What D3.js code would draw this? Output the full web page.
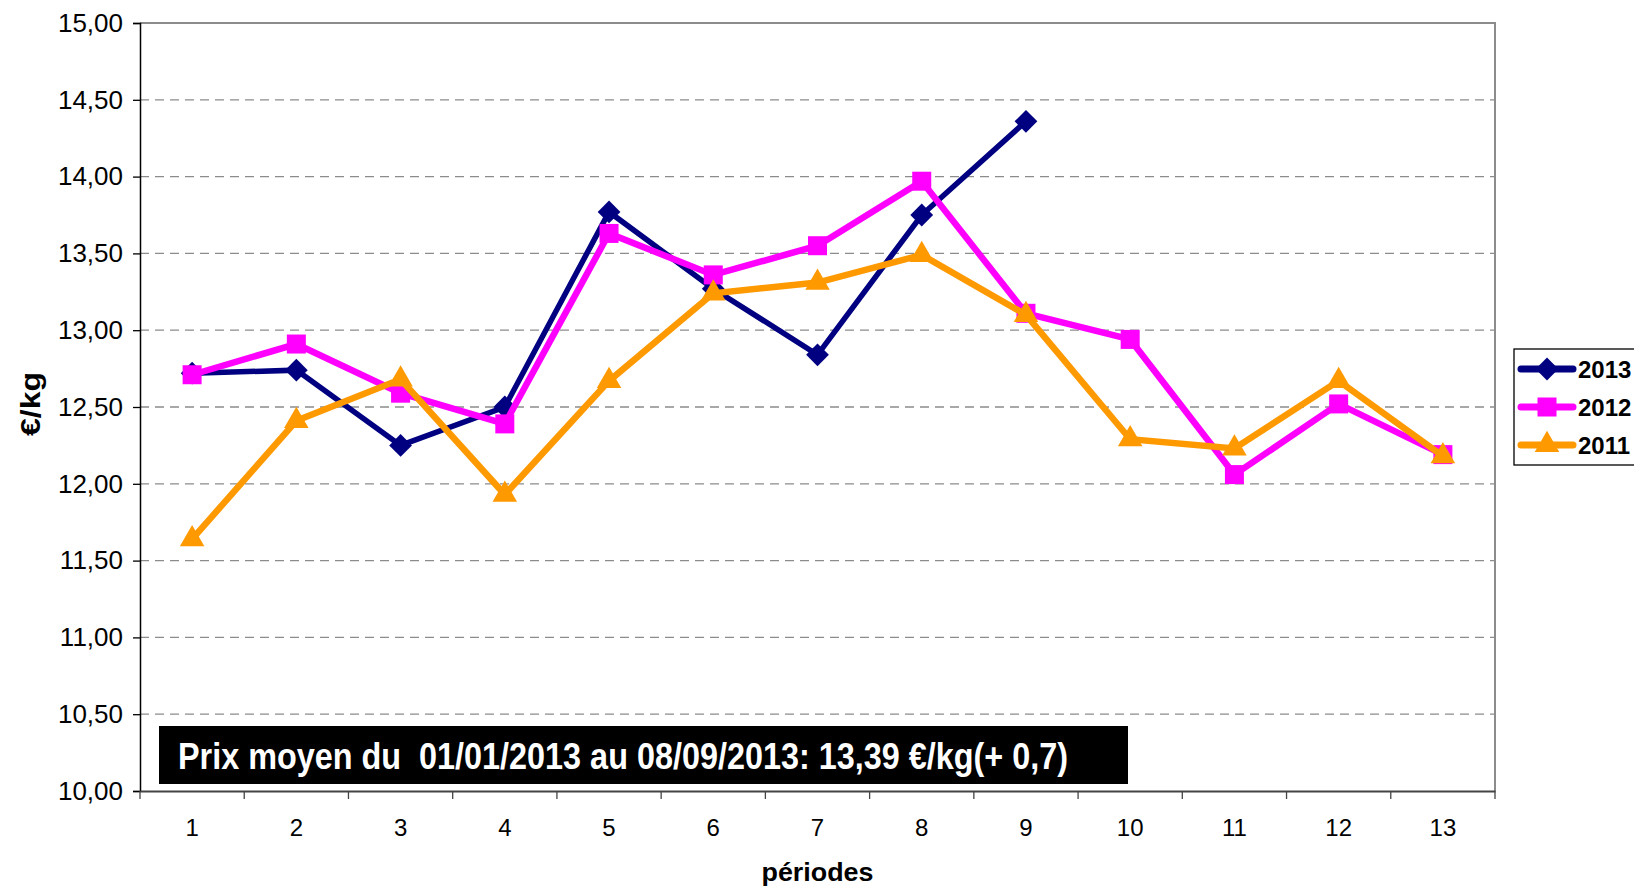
<!DOCTYPE html>
<html>
<head>
<meta charset="utf-8">
<script src="https://cdn.jsdelivr.net/npm/d3@7"></script>
<style>
	body { margin: 0; background: #fff; }
	svg { display: block; font-family: "Liberation Sans", Arial, sans-serif; }
</style>
</head>
<body>
<div id="chart"></div>
<script>
(function() {
	// data
	var periods = [1, 2, 3, 4, 5, 6, 7, 8, 9, 10, 11, 12, 13];
	var values2013 = [12.72, 12.74, 12.25, 12.50, 13.77, 13.27, 12.84, 13.75, 14.36];
	var values2012 = [12.71, 12.91, 12.59, 12.39, 13.63, 13.36, 13.55, 13.97, 13.11, 12.94, 12.06, 12.52, 12.19];
	var values2011 = [11.64, 12.41, 12.68, 11.93, 12.67, 13.24, 13.31, 13.49, 13.10, 12.29, 12.23, 12.67, 12.18];
	var seriesNames = ["2013", "2012", "2011"];
	var yTicks = [10, 10.5, 11, 11.5, 12, 12.5, 13, 13.5, 14, 14.5, 15];
	var note = "Prix moyen du  01/01/2013 au 08/09/2013: 13,39 €/kg(+ 0,7)";

	var width = 1634;
	var height = 890;
	var left = 140, top = 23, right = 1495, bottom = 791;

	var svg = d3.select("#chart")
		.append("svg")
		.attr("width", width)
		.attr("height", height);

	var x = d3.scaleBand()
		.domain(periods)
		.range([left, right])
		.padding(0);
	var y = d3.scaleLinear()
		.domain([10, 15])
		.range([bottom, top]);

	var fr = d3.formatLocale({decimal: ",", thousands: " ", grouping: [3], currency: ["", "€"]});
	var fmt = fr.format(".2f");

	// grid lines
	svg.append("g")
		.selectAll("line")
		.data(yTicks.filter(function(d) { return d > 10 && d < 15; }))
		.enter()
		.append("line")
		.attr("x1", left)
		.attr("x2", right)
		.attr("y1", function(d) { return y(d); })
		.attr("y2", function(d) { return y(d); })
		.attr("stroke", "#8c8c8c")
		.attr("stroke-width", 1.3)
		.attr("stroke-dasharray", "9,6");

	// frame top and right
	svg.append("path")
		.attr("d", "M" + left + "," + y(15) + "H" + right + "V" + bottom)
		.attr("fill", "none")
		.attr("stroke", "#8c8c8c")
		.attr("stroke-width", 2);

	// y axis
	var yAxis = svg.append("g")
		.attr("transform", "translate(" + left + ",0)")
		.call(d3.axisLeft(y).tickValues(yTicks).tickFormat(fmt).tickSize(7).tickPadding(10));
	yAxis.select(".domain").attr("stroke", "#000").attr("stroke-width", 1.5);
	yAxis.selectAll(".tick line").attr("stroke", "#000").attr("stroke-width", 1.3);
	yAxis.selectAll("text").attr("font-size", 26).attr("fill", "#000")
		.attr("font-family", "Liberation Sans, Arial, sans-serif");

	// x axis
	var xAxis = svg.append("g")
		.attr("transform", "translate(0," + bottom + ")")
		.call(d3.axisBottom(x).tickSize(0).tickPadding(28).tickSizeOuter(0));
	xAxis.select(".domain").attr("stroke", "#444").attr("stroke-width", 2);
	xAxis.selectAll("text").attr("font-size", 24).attr("fill", "#000")
		.attr("font-family", "Liberation Sans, Arial, sans-serif");
	var bounds = periods.map(function(p) { return x(p); }).concat([x(13) + x.bandwidth()]);
	svg.append("g")
		.selectAll("line")
		.data(bounds)
		.enter()
		.append("line")
		.attr("x1", function(d) { return d; })
		.attr("x2", function(d) { return d; })
		.attr("y1", bottom)
		.attr("y2", bottom + 8)
		.attr("stroke", "#444")
		.attr("stroke-width", 1.3);

	// axis titles
	svg.append("text")
		.attr("transform", "translate(40," + 404 + ") rotate(-90)")
		.attr("text-anchor", "middle")
		.attr("font-size", 27)
		.attr("font-weight", "bold")
		.attr("textLength", 64)
		.attr("lengthAdjust", "spacingAndGlyphs")
		.text("€/kg");
	svg.append("text")
		.attr("x", (left + right) / 2)
		.attr("y", 881)
		.attr("text-anchor", "middle")
		.attr("font-size", 26)
		.attr("font-weight", "bold")
		.attr("textLength", 112)
		.attr("lengthAdjust", "spacingAndGlyphs")
		.text("périodes");

	// note box
	svg.append("rect")
		.attr("x", 159)
		.attr("y", 726)
		.attr("width", 969)
		.attr("height", 58)
		.attr("fill", "#000");
	svg.append("text")
		.attr("x", 178)
		.attr("y", 769)
		.attr("font-size", 36)
		.attr("font-weight", "bold")
		.attr("fill", "#fff")
		.attr("textLength", 890)
		.attr("lengthAdjust", "spacingAndGlyphs")
		.style("white-space", "pre")
		.text(note);

	var colors = {"2013": "#000080", "2012": "#ff00ff", "2011": "#ff9900"};
	var symbols = {"2013": d3.symbolDiamond2, "2012": d3.symbolSquare2, "2011": d3.symbolTriangle2};
	var sizes = {"2013": 330, "2012": 460, "2011": 430};
	var widths = {"2013": 5.5, "2012": 6.5, "2011": 6.5};
	var allValues = {"2013": values2013, "2012": values2012, "2011": values2011};

	var line = d3.line()
		.x(function(d, i) { return x(periods[i]) + x.bandwidth() / 2; })
		.y(function(d) { return y(d); });

	function symbolPath(name) {
		return d3.symbol().type(symbols[name]).size(sizes[name])();
	}

	seriesNames.forEach(function(name) {
		var vals = allValues[name];
		var g = svg.append("g");
		g.append("path")
			.datum(vals)
			.attr("d", line)
			.attr("fill", "none")
			.attr("stroke", colors[name])
			.attr("stroke-width", widths[name])
			.attr("stroke-linejoin", "miter");
		g.selectAll(".pt")
			.data(vals)
			.enter()
			.append("path")
			.attr("class", "pt")
			.attr("transform", function(d, i) {
				return "translate(" + (x(periods[i]) + x.bandwidth() / 2) + "," + y(d) + ")";
			})
			.attr("d", symbolPath(name))
			.attr("fill", colors[name]);
	});

	// legend (cut off at right edge, like the original)
	var legend = svg.append("g");
	legend.append("rect")
		.attr("x", 1514)
		.attr("y", 349)
		.attr("width", 140)
		.attr("height", 116)
		.attr("fill", "#fff")
		.attr("stroke", "#000")
		.attr("stroke-width", 1.3);
	var ly = d3.scalePoint().domain(seriesNames).range([369, 445]);
	seriesNames.forEach(function(name) {
		var row = legend.append("g").attr("transform", "translate(0," + ly(name) + ")");
		row.append("line")
			.attr("x1", 1521)
			.attr("x2", 1573)
			.attr("stroke", colors[name])
			.attr("stroke-width", 7)
			.attr("stroke-linecap", "round");
		row.append("path")
			.attr("transform", "translate(1547,0)")
			.attr("d", symbolPath(name))
			.attr("fill", colors[name]);
		row.append("text")
			.attr("x", 1578)
			.attr("y", 9)
			.attr("font-size", 24)
			.attr("font-weight", "bold")
			.text(name);
	});
})();
</script>
</body>
</html>
